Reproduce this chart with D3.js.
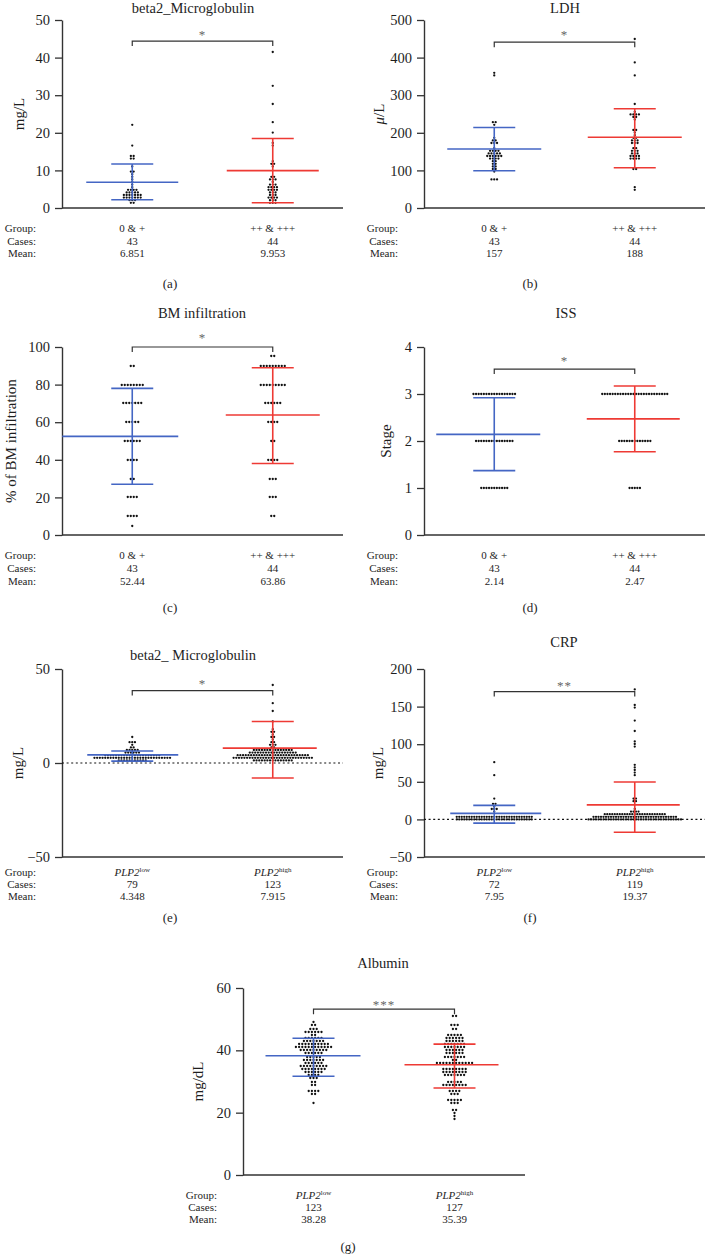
<!DOCTYPE html>
<html>
<head>
<meta charset="utf-8">
<script src="https://cdn.jsdelivr.net/npm/d3@7/dist/d3.min.js"></script>
<style>
  html, body { margin:0; padding:0; background:#fff; }
  svg { display:block; }
</style>
</head>
<body>
<svg id="fig" width="706" height="1260"></svg>
<script>
// ================= DATA =================
const stainGroups = ["0 & +", "++ & +++"];
const plpGene = "PLP2";
const plpSup = ["low", "high"];
const rowLabels = ["Group:", "Cases:", "Mean:"];

// (a) beta2_Microglobulin by staining
const b2mStainLow = [21.9, 16.7, 14.1, 13.8, 13.3, 12.8, 11.2, 9.9, 9.5, 9.2, 8.3, 7.6, 7.2, 6.2,
  5.3, 5.1, 5.0, 4.8, 4.6, 4.4, 4.3, 4.2, 4.0, 3.9, 3.8, 3.7, 3.6, 3.5, 3.4, 3.3, 3.2, 3.1, 3.0,
  2.9, 2.8, 2.7, 2.6, 2.5, 2.3, 2.0, 1.8, 1.5, 1.2];
const b2mStainHigh = [41.4, 32.5, 27.8, 23.1, 19.9, 17.3, 16.9, 12.3, 12.0, 11.6, 11.1,
  8.6, 8.2, 7.9, 7.6, 7.3, 6.8, 6.4, 6.2, 6.0, 5.8, 5.6, 5.5, 5.3, 5.1, 4.9, 4.7,
  4.5, 4.3, 4.1, 3.9, 3.7, 3.5, 3.3, 3.1, 2.9, 2.7, 2.5, 2.3, 2.1, 1.9, 1.7, 1.5, 1.4];
const b2mStainCases = [43, 44];
const b2mStainMeans = [6.851, 9.953];
const b2mStainSD = [[2.2, 11.7], [1.4, 18.5]];
const b2mStainTicks = [0, 10, 20, 30, 40, 50];

// (b) LDH
const ldhLow = [360, 354, 231, 225, 219, 184, 181, 178, 176, 173, 170, 158, 155, 152, 150, 149, 147,
  146, 145, 144, 142, 141, 140, 139, 138, 136, 135, 134, 132, 130, 128, 125, 122, 118, 115, 112,
  108, 105, 102, 100, 79, 77, 76];
const ldhHigh = [451, 386, 354, 280, 256, 252, 250, 248, 246, 243, 240, 238, 210, 207, 203, 195, 190,
  186, 182, 180, 178, 175, 173, 170, 162, 158, 155, 152, 149, 146, 144, 142, 140, 139, 137, 135,
  133, 131, 130, 128, 106, 104, 52, 50];
const ldhCases = [43, 44];
const ldhMeans = [157, 188];
const ldhSD = [[99, 214], [107, 264]];
const ldhTicks = [0, 100, 200, 300, 400, 500];

// (c) BM infiltration
const bmLow = [90, 90, 80, 80, 80, 80, 80, 80, 80, 80, 70, 70, 70, 70, 70, 70, 70, 60, 60, 60, 60, 60,
  50, 50, 50, 50, 50, 50, 40, 40, 40, 40, 30, 30, 20, 20, 20, 20, 10, 10, 10, 10, 5];
const bmHigh = [95, 95, 90, 90, 90, 90, 90, 90, 90, 90, 90, 80, 80, 80, 80, 80, 80, 80, 80, 80,
  70, 70, 70, 70, 70, 70, 60, 60, 60, 60, 50, 50, 40, 40, 40, 40, 30, 30, 30, 20, 20, 20, 10, 10];
const bmCases = [43, 44];
const bmMeans = [52.44, 63.86];
const bmSD = [[27, 78], [38, 89]];
const bmTicks = [0, 20, 40, 60, 80, 100];

// (d) ISS
const issLow = [3, 3, 3, 3, 3, 3, 3, 3, 3, 3, 3, 3, 3, 3, 3, 3, 3,
  2, 2, 2, 2, 2, 2, 2, 2, 2, 2, 2, 2, 2, 2, 2,
  1, 1, 1, 1, 1, 1, 1, 1, 1, 1, 1];
const issHigh = [3, 3, 3, 3, 3, 3, 3, 3, 3, 3, 3, 3, 3, 3, 3, 3, 3, 3, 3, 3, 3, 3, 3, 3, 3, 3,
  2, 2, 2, 2, 2, 2, 2, 2, 2, 2, 2, 2, 2,
  1, 1, 1, 1, 1];
const issCases = [43, 44];
const issMeans = [2.14, 2.47];
const issSD = [[1.37, 2.92], [1.77, 3.17]];
const issTicks = [0, 1, 2, 3, 4];

// (e) beta2_ Microglobulin by PLP2
const b2mPlpLow = [14.1, 11.6, 11.0, 10.6, 9.8, 8.6, 8.1, 7.6, 7.2, 6.9, 6.6, 6.4, 6.1, 5.9, 5.7, 5.5, 5.3, 5.1,
  4.8, 4.7, 4.6, 4.5, 4.5, 4.4, 4.3, 4.2, 4.2, 4.1, 4.0, 3.9, 3.9, 3.8, 3.8, 3.7, 3.7, 3.6, 3.6, 3.5, 3.5,
  3.4, 3.3, 3.3, 3.2, 3.2, 3.1, 3.1, 3.0, 3.0, 3.0, 2.9, 2.9, 2.8, 2.8, 2.7, 2.7, 2.6, 2.6, 2.5, 2.5, 2.5,
  2.4, 2.4, 2.3, 2.3, 2.2, 2.2, 2.1, 2.1,
  2.0, 1.9, 1.9, 1.8, 1.8, 1.7, 1.6, 1.5, 1.4, 1.3, 1.2];
const b2mPlpHigh = [41.3, 32.4, 28.0, 22.7, 17.8, 17.2, 16.4, 15.2, 14.1, 13.2, 12.4, 11.6, 10.8, 10.1, 9.5, 9.0, 8.6, 8.2,
  7.4, 7.3, 7.2, 7.1, 7.0, 7.0, 6.9, 6.9, 6.8, 6.8, 6.7, 6.6,
  6.4, 6.3, 6.3, 6.2, 6.2, 6.1, 6.1, 6.0, 6.0, 6.0, 5.9, 5.9, 5.8, 5.8, 5.7, 5.7, 5.6, 5.5,
  5.0, 4.9, 4.9, 4.8, 4.8, 4.7, 4.7, 4.6, 4.6, 4.6, 4.5, 4.5, 4.5, 4.4, 4.4, 4.4, 4.3, 4.3, 4.2, 4.2, 4.1, 4.1, 4.0, 4.0, 3.9,
  3.7, 3.6, 3.6, 3.5, 3.5, 3.4, 3.4, 3.4, 3.3, 3.3, 3.3, 3.2, 3.2, 3.2, 3.1, 3.1, 3.1, 3.0, 3.0, 3.0, 2.9, 2.9, 2.8, 2.8, 2.7, 2.7, 2.6, 2.6,
  2.4, 2.3, 2.3, 2.2, 2.2, 2.1, 2.1, 2.0, 2.0, 1.9, 1.9, 1.8, 1.8, 1.7, 1.6, 1.5,
  1.3, 1.2, 1.1, 1.0, 0.9, 0.8];
const b2mPlpCases = [79, 123];
const b2mPlpMeans = [4.348, 7.915];
const b2mPlpSD = [[1.0, 6.4], [-8, 22.1]];
const b2mPlpTicks = [-50, 0, 50];

// (f) CRP
const crpLow = [77.7, 59.5, 26.5, 22.0, 20.5, 17.0, 15.5, 14.5, 13.5, 9.0,
  5.1, 5.0, 4.9, 4.8, 4.7, 4.6, 4.5, 4.4, 4.3, 4.2, 4.1, 4.0, 3.9, 3.8, 3.7, 3.6, 3.5, 3.4, 3.3, 3.2,
  3.1, 3.0, 2.9, 2.8, 2.7, 2.6, 2.5, 2.4, 2.3, 2.1, 1.9,
  1.7, 1.6, 1.6, 1.5, 1.5, 1.4, 1.4, 1.3, 1.3, 1.2, 1.2, 1.1, 1.1, 1.0, 1.0, 0.9, 0.9, 0.8, 0.8, 0.7,
  0.7, 0.6, 0.6, 0.5, 0.5, 0.4, 0.3, 0.2, 0.1, 0.0, 0.0];
const crpHigh = [172, 152, 147.6, 130.7, 117.8, 103, 101, 96.4, 73, 69.8, 64.4, 61, 58.7,
  28.4, 26.7, 25.5, 24.2, 14.2, 12.0, 10.5, 9.5, 9.0, 8.5,
  8.4, 8.2, 8.0, 7.8, 7.6, 7.4, 7.2, 7.0, 6.9, 6.8, 6.7, 6.6, 6.5, 6.4, 6.3, 6.2, 6.1, 6.0, 5.9, 5.8,
  5.7, 5.6, 5.5, 5.4,
  5.1, 5.0, 4.9, 4.8, 4.7, 4.6, 4.5, 4.4, 4.3, 4.2, 4.1, 4.0, 3.9, 3.8, 3.7, 3.6, 3.5, 3.4, 3.3, 3.2,
  3.1, 3.0, 2.9, 2.8, 2.7, 2.6, 2.5, 2.4, 2.3, 2.2, 2.1, 2.0, 1.9, 1.8,
  1.7, 1.6, 1.6, 1.5, 1.5, 1.4, 1.4, 1.3, 1.3, 1.2, 1.2, 1.1, 1.1, 1.0, 1.0, 0.9, 0.9, 0.8, 0.8, 0.7,
  0.7, 0.6, 0.6, 0.5, 0.5, 0.4, 0.4, 0.3, 0.3, 0.2, 0.2, 0.1, 0.1, 0.0, 0.0, 0.0, 0.0, 0.0];
const crpCases = [72, 119];
const crpMeans = [7.95, 19.37];
const crpSD = [[-5, 18.7], [-17, 49.7]];
const crpTicks = [-50, 0, 50, 100, 150, 200];

// (g) Albumin
const albLow = [49, 48, 48, 47, 47, 47, 46, 46, 46, 46, 46, 46, 45, 45,
  44, 44, 44, 44, 44, 44, 43, 43, 43, 43, 43, 43, 43,
  42, 42, 42, 42, 42, 42, 42, 42, 42, 42,
  41, 41, 41, 41, 41, 41, 41, 41, 41, 41, 41, 41,
  40, 40, 40, 40, 40, 40, 40, 40, 40,
  39, 39, 39, 39, 39, 39, 38, 38, 38, 38, 38,
  37, 37, 37, 37, 37, 37, 37, 36, 36, 36, 36, 36, 36,
  35, 35, 35, 35, 35, 35, 35, 35, 35, 34, 34, 34, 34, 34, 34, 34, 34,
  33, 33, 33, 33, 33, 33, 32, 32, 32, 32, 31, 31, 31, 30, 30, 29, 29,
  27, 27, 27, 27, 26, 26, 23];
const albHigh = [51, 51, 48, 48, 48, 47, 47, 45, 45, 45, 45, 45,
  44, 44, 44, 44, 44, 44, 43, 43, 43, 43, 43, 43,
  42, 42, 42, 42, 42, 42, 42, 41, 41, 41, 41, 41, 41, 41,
  40, 40, 40, 40, 40, 40, 39, 39, 39, 39, 39, 39, 38, 38, 38, 38, 38, 38, 38, 37, 37,
  36, 36, 36, 36, 36, 36, 36, 36, 36, 36, 36, 36,
  34, 34, 34, 34, 34, 34, 34, 34, 33, 33, 33, 33, 33, 33, 33, 33,
  32, 32, 32, 32, 32, 32, 32, 30, 30, 30, 30, 30,
  29, 29, 29, 29, 29, 29, 29, 29, 27, 27, 27, 27, 26, 26, 26,
  24, 24, 24, 24, 24, 23, 23, 23, 21, 21, 20, 19, 18];
const albCases = [123, 127];
const albMeans = [38.28, 35.39];
const albSD = [[31.7, 43.9], [27.9, 42.0]];
const albTicks = [0, 20, 40, 60];

// ================= LAYOUT =================
const FONT = "'Liberation Serif','DejaVu Serif','Times New Roman',serif";
const BLUE = "#4466c4", RED = "#ee3a34", AXIS = "#333333", INK = "#1e1e1e";

const panels = [
  {vals:[b2mStainLow, b2mStainHigh], cases:b2mStainCases, means:b2mStainMeans, sd:b2mStainSD, ticks:b2mStainTicks,
   domain:[0,50], plp:false, title:"beta2_Microglobulin", yLabel:"mg/L", star:"*", bracket:44.4, caption:"(a)",
   axisX:62, xEnd:343, yRange:[208,20], titleX:193, titleY:13, yLabelX:19, starY:39,
   rowY:[232,245,257], capX:170, capY:288, spacing:2.8, bin:2.6, meanExt:[[46,46],[46,46]]},
  {vals:[ldhLow, ldhHigh], cases:ldhCases, means:ldhMeans, sd:ldhSD, ticks:ldhTicks,
   domain:[0,500], plp:false, title:"LDH", yLabel:"mu", star:"*", bracket:441, caption:"(b)",
   axisX:424, xEnd:705, yRange:[208,20], titleX:565, titleY:13, yLabelX:379, starY:39,
   rowY:[232,245,257], capX:530, capY:288, spacing:2.8, bin:2.6, meanExt:[[47,47],[47,47]]},
  {vals:[bmLow, bmHigh], cases:bmCases, means:bmMeans, sd:bmSD, ticks:bmTicks,
   domain:[0,100], plp:false, title:"BM infiltration", yLabel:"% of BM infiltration", star:"*", bracket:100, caption:"(c)",
   axisX:62, xEnd:343, yRange:[535,347], titleX:202, titleY:318, yLabelX:11, starY:342,
   rowY:[559,572,585], capX:170, capY:612, spacing:3.0, bin:1, meanExt:[[70,46],[47,47]]},
  {vals:[issLow, issHigh], cases:issCases, means:issMeans, sd:issSD, ticks:issTicks,
   domain:[0,4], plp:false, title:"ISS", yLabel:"Stage", star:"*", bracket:3.53, caption:"(d)",
   axisX:424, xEnd:705, yRange:[535,347], titleX:566, titleY:318, yLabelX:386, starY:365,
   rowY:[559,572,585], capX:530, capY:612, spacing:2.6, bin:1, meanExt:[[58,46],[48,45]]},
  {vals:[b2mPlpLow, b2mPlpHigh], cases:b2mPlpCases, means:b2mPlpMeans, sd:b2mPlpSD, ticks:b2mPlpTicks,
   domain:[-50,50], plp:true, title:"beta2_ Microglobulin", yLabel:"mg/L", star:"*", bracket:38.5, caption:"(e)",
   axisX:62, xEnd:343, yRange:[857,669], titleX:193, titleY:660, yLabelX:18, starY:688,
   rowY:[876,888,900], capX:170, capY:922, spacing:2.7, bin:2.6, meanExt:[[45,46],[50,44]]},
  {vals:[crpLow, crpHigh], cases:crpCases, means:crpMeans, sd:crpSD, ticks:crpTicks,
   domain:[-50,200], plp:true, title:"CRP", yLabel:"mg/L", star:"**", bracket:170, caption:"(f)",
   axisX:424, xEnd:705, yRange:[857,669], titleX:564, titleY:647, yLabelX:378, starY:690,
   rowY:[876,888,900], capX:530, capY:922, spacing:2.5, bin:2.6, meanExt:[[44,47],[48,45]]},
  {vals:[albLow, albHigh], cases:albCases, means:albMeans, sd:albSD, ticks:albTicks,
   domain:[0,60], plp:true, title:"Albumin", yLabel:"mg/dL", star:"***", bracket:53.2, caption:"(g)",
   axisX:243, xEnd:525, yRange:[1175,988], titleX:383, titleY:968, yLabelX:198, starY:1009,
   rowY:[1199,1211,1223], capX:348, capY:1251, spacing:3.2, bin:1, meanExt:[[48,47],[50,44]]}
];

const svg = d3.select("#fig").attr("font-family", FONT);

function swarm(values, cx, y, bin, spacing) {
  const y0 = y(0);
  const rows = d3.groups(values, v => Math.round((y(v) - y0) / bin));
  const out = [];
  rows.forEach(([k, vs]) => {
    const s = vs.slice().sort((a, b) => b - a);
    const n = s.length;
    const slots = d3.range(n).map(i => (i - (n - 1) / 2) * spacing)
      .sort((a, b) => Math.abs(a) - Math.abs(b) || a - b);
    s.forEach((v, i) => out.push({v, x: cx + slots[i], y: y0 + k * bin}));
  });
  return out;
}

function drawPanel(p) {
  const G = svg.append("g");
  const y = d3.scaleLinear().domain(p.domain).range(p.yRange);
  const x = d3.scalePoint().domain([0, 1]).range([p.axisX, p.xEnd]).padding(0.5);
  const colors = [BLUE, RED];

  // y axis
  const ax = G.append("g").attr("transform", `translate(${p.axisX},0)`)
    .call(d3.axisLeft(y).tickValues(p.ticks).tickFormat(d3.format("d"))
      .tickSize(7).tickSizeOuter(0).tickPadding(5));
  ax.attr("font-family", FONT).attr("font-size", 14.5);
  ax.select(".domain").attr("stroke", AXIS).attr("stroke-width", 1.4);
  ax.selectAll(".tick line").attr("stroke", AXIS).attr("stroke-width", 1.3);
  ax.selectAll(".tick text").attr("fill", INK);

  // x baseline
  G.append("line").attr("x1", p.axisX).attr("x2", p.xEnd)
    .attr("y1", y(p.domain[0])).attr("y2", y(p.domain[0]))
    .attr("stroke", AXIS).attr("stroke-width", 1.4);

  // dotted zero line
  if (p.domain[0] < 0) {
    G.append("line").attr("x1", p.axisX).attr("x2", p.xEnd)
      .attr("y1", y(0)).attr("y2", y(0))
      .attr("stroke", "#111").attr("stroke-width", 1.1).attr("stroke-dasharray", "2,2.6");
  }

  // dots
  p.vals.forEach((vals, i) => {
    const pts = swarm(vals, x(i), y, p.bin, p.spacing);
    G.append("g").selectAll("circle").data(pts).join("circle")
      .attr("cx", d => d.x).attr("cy", d => d.y).attr("r", 1.15).attr("fill", "#111");
  });

  // mean & SD bars
  [0, 1].forEach(i => {
    const cx = x(i), c = colors[i];
    const [lo, hi] = p.sd[i];
    const eb = G.append("g").attr("stroke", c).attr("stroke-width", 1.6).attr("fill", "none");
    const ml = Math.max(p.axisX, cx - p.meanExt[i][0]);
    eb.append("line").attr("x1", ml).attr("x2", cx + p.meanExt[i][1])
      .attr("y1", y(p.means[i])).attr("y2", y(p.means[i]));
    eb.append("line").attr("x1", cx).attr("x2", cx).attr("y1", y(lo)).attr("y2", y(hi));
    [lo, hi].forEach(v => eb.append("line").attr("x1", cx - 21).attr("x2", cx + 21)
      .attr("y1", y(v)).attr("y2", y(v)));
  });

  // significance bracket
  const by = y(p.bracket);
  G.append("path")
    .attr("d", `M${x(0)},${by + 5}V${by}H${x(1)}V${by + 5}`)
    .attr("fill", "none").attr("stroke", "#333").attr("stroke-width", 1.2);
  G.append("text").attr("x", (x(0) + x(1)) / 2).attr("y", p.starY)
    .attr("text-anchor", "middle").attr("font-size", 13).attr("fill", "#666")
    .attr("letter-spacing", 1).text(p.star);

  // title
  G.append("text").attr("x", p.titleX).attr("y", p.titleY).attr("text-anchor", "middle")
    .attr("font-size", 14.5).attr("fill", INK).text(p.title);

  // y label
  const yl = G.append("text")
    .attr("transform", `translate(${p.yLabelX},${(p.yRange[0] + p.yRange[1]) / 2}) rotate(-90)`)
    .attr("text-anchor", "middle").attr("dominant-baseline", "central")
    .attr("font-size", 15).attr("fill", INK);
  if (p.yLabel === "mu") {
    yl.append("tspan").attr("font-style", "italic").text("\u03BC");
    yl.append("tspan").text("/L");
  } else yl.text(p.yLabel);

  // table rows
  rowLabels.forEach((lab, r) => {
    G.append("text").attr("x", p.axisX - 26).attr("y", p.rowY[r]).attr("text-anchor", "end")
      .attr("font-size", 11).attr("fill", INK).text(lab);
  });
  [0, 1].forEach(i => {
    const gt = G.append("text").attr("x", x(i)).attr("y", p.rowY[0]).attr("text-anchor", "middle")
      .attr("font-size", 11).attr("fill", INK);
    if (p.plp) {
      gt.append("tspan").attr("font-style", "italic").text(plpGene);
      gt.append("tspan").attr("font-size", 7).attr("dy", -4).text(plpSup[i]);
    } else gt.text(stainGroups[i]);
    G.append("text").attr("x", x(i)).attr("y", p.rowY[1]).attr("text-anchor", "middle")
      .attr("font-size", 11).attr("fill", INK).text(p.cases[i]);
    G.append("text").attr("x", x(i)).attr("y", p.rowY[2]).attr("text-anchor", "middle")
      .attr("font-size", 11).attr("fill", INK).text(String(p.means[i]));
  });

  // caption
  G.append("text").attr("x", p.capX).attr("y", p.capY).attr("text-anchor", "middle")
    .attr("font-size", 13).attr("fill", INK).text(p.caption);
}

panels.forEach(drawPanel);
</script>
</body>
</html>
